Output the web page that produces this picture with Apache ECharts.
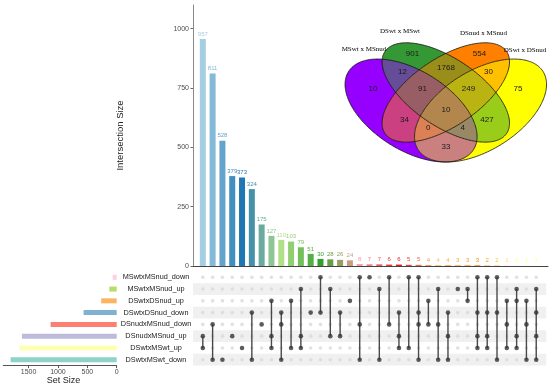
<!DOCTYPE html>
<html><head><meta charset="utf-8">
<script src="https://cdn.jsdelivr.net/npm/echarts@6/dist/echarts.min.js"></script>
<style>html,body{margin:0;padding:0;background:#fff}#c{width:550px;height:386px}</style>
</head><body><div id="c"></div>
<script>
// ---------------- DATA ----------------
const setNames = ['MSwtxMSnud_down','MSwtxMSnud_up','DSwtxDSnud_up','DSwtxDSnud_down','DSnudxMSnud_down','DSnudxMSnud_up','DSwtxMSwt_up','DSwtxMSwt_down'];
const setSizes = [68,126,264,564,1125,1613,1657,1805];
const intersectionSizes = [957,811,528,379,373,324,175,127,110,103,79,51,30,28,26,24,8,7,7,6,6,5,5,4,4,4,3,3,3,2,2,1,1,1,1];
// members of each intersection, as indices into setNames
const intersectionSets = [[5,6],[4,7],[7],[5],[6],[3,7],[4],[2,5,6],[3,4,7],[2,6],[1,5,6],[3],[0,3],[1,5],[3,5],[2],[0,4,7],[0],[1,7],[0,4],[3,5,6],[0,6],[0,3,4,7],[2,4],[1,4,7],[3,5,7],[1],[1,2],[0,3,5,6],[0,3,5,6],[0,3,7],[2,4,6],[1,2,5,6],[2,4,7],[1,3,5,7]];
const intersectionTicks = [0,250,500,750,1000];
const setSizeTicks = [0,500,1000,1500];

// Venn inset
const vennSetLabels = ['MSwt x MSnud','DSwt x MSwt','DSnud x MSnud','DSwt x DSnud'];
const vennRegionKeys = ['A','B','C','D','AB','BC','CD','ABC','BCD','ABCD','AC','BD','ACD','ABD','AD'];
const vennCounts = [10,901,554,75,12,1768,30,91,249,10,34,427,0,4,33];

// ---------------- STYLES ----------------
const FONT = '"Liberation Sans", Arial, Helvetica, sans-serif';
const setColors = ['#FCCDE5','#B3DE69','#FDB462','#80B1D3','#FB8072','#BEBADA','#FFFFB3','#8DD3C7'];
const rampAnchors = ['#A6CEE3','#1F78B4','#B2DF8A','#33A02C','#FB9A99','#E31A1C','#FDBF6F','#FF7F00','#FFFF99'];
function h2r(h){return [parseInt(h.slice(1,3),16),parseInt(h.slice(3,5),16),parseInt(h.slice(5,7),16)];}
function r2h(c){return '#'+c.map(v=>Math.round(v).toString(16).padStart(2,'0')).join('');}
function rampColor(i){
  const t=i/4; const k=Math.min(Math.floor(t),rampAnchors.length-2); const f=Math.min(t-k,1);
  const a=h2r(rampAnchors[k]), b=h2r(rampAnchors[k+1]);
  return r2h(a.map((v,j)=>v+(b[j]-v)*f));
}
const XMAX = 36.2;

// ---------------- MATRIX DATA ----------------
const greyDots=[], blackDots=[], links=[];
intersectionSets.forEach((s,i)=>{
  setNames.forEach((_,r)=>{ (s.indexOf(r)>=0?blackDots:greyDots).push([i+1,r]); });
  if(s.length>1) links.push([i+1, Math.min(...s), Math.max(...s)]);
});
const bandRows = setNames.map((_,i)=>i).filter(i=>i%2===1).map(r=>[0,r]);

// ---------------- VENN ----------------
const vennEllipses = [
  {cx:0.35,cy:0.53,a:0.35,b:0.2,phi:45},
  {cx:0.50,cy:0.43,a:0.35,b:0.17,phi:45},
  {cx:0.50,cy:0.43,a:0.35,b:0.17,phi:135},
  {cx:0.65,cy:0.53,a:0.35,b:0.2,phi:135}
];
const vennBase = ['#9600FF','#349934','#FF8000','#FFFF00'];
const V = {ox:445.8, sx:231.6, oy:14.8, sy:180.6};
const VX = x=>V.ox+(x-0.5)*V.sx, VY = y=>V.oy+y*V.sy;
const vennLabelPos = [[373,88.5],[412.5,53.3],[479.5,53.3],[518,89],[402.5,71.7],[446,67.7],[488.5,71.7],[422.5,89],[468.5,89],[446,110],[404.5,120],[487,120],[428.3,127.7],[462.7,127.7],[446,146.7]];
const vennSetLabelPos = [[364,49],[400,31.5],[483.5,33.5],[525,50]];

function ellipsePts(e,n){
  const p=[],phi=e.phi*Math.PI/180;
  for(let k=0;k<n;k++){const t=2*Math.PI*k/n;
    const x=e.cx+e.a*Math.cos(t)*Math.cos(phi)-e.b*Math.sin(t)*Math.sin(phi);
    const y=e.cy+e.a*Math.cos(t)*Math.sin(phi)+e.b*Math.sin(t)*Math.cos(phi);
    p.push([VX(x),VY(y)]);}
  return p;
}
function cross(a,b,p){return (b[0]-a[0])*(p[1]-a[1])-(b[1]-a[1])*(p[0]-a[0]);}
function clipConvex(subject,clip){
  let area=0; for(let i=0;i<clip.length;i++){const a=clip[i],b=clip[(i+1)%clip.length];area+=a[0]*b[1]-b[0]*a[1];}
  const sg=area>0?1:-1; let out=subject;
  for(let i=0;i<clip.length&&out.length;i++){
    const A=clip[i],B=clip[(i+1)%clip.length]; const inp=out; out=[];
    const ins=p=>sg*cross(A,B,p)>=0;
    for(let j=0;j<inp.length;j++){
      const cur=inp[j],prev=inp[(j+inp.length-1)%inp.length];
      const ic=ins(cur),ip=ins(prev);
      if(ic!==ip){const d1=cross(A,B,prev),d2=cross(A,B,cur),t=d1/(d1-d2);
        out.push([prev[0]+t*(cur[0]-prev[0]),prev[1]+t*(cur[1]-prev[1])]);}
      if(ic) out.push(cur);
    }
  }
  return out;
}
const ePolys = vennEllipses.map(e=>ellipsePts(e,260));
const vennGraphics=[];
const masks=[]; for(let m=1;m<16;m++) masks.push(m);
const pc=m=>[0,1,2,3].filter(i=>m&(1<<i)).length;
masks.sort((a,b)=>pc(a)-pc(b));
masks.forEach(m=>{
  const mem=[0,1,2,3].filter(i=>m&(1<<i));
  let poly=ePolys[mem[0]];
  for(let k=1;k<mem.length;k++) poly=clipConvex(poly,ePolys[mem[k]]);
  if(poly.length<3) return;
  const cols=mem.map(i=>h2r(vennBase[i]));
  const avg=[0,1,2].map(j=>cols.reduce((s,c)=>s+c[j],0)/cols.length);
  vennGraphics.push({type:'polygon',shape:{points:poly},style:{fill:r2h(avg),stroke:null,lineWidth:0},silent:true,z:10});
});
ePolys.forEach(p=>vennGraphics.push({type:'polygon',shape:{points:p},style:{fill:null,stroke:'#111',lineWidth:0.8},silent:true,z:11}));
vennCounts.forEach((c,i)=>vennGraphics.push({type:'text',x:vennLabelPos[i][0],y:vennLabelPos[i][1],z:12,silent:true,
  style:{text:String(c),fontSize:8,fontFamily:FONT,fill:'#1a1a1a',align:'center',verticalAlign:'middle',textAlign:'center',textVerticalAlign:'middle'}}));
vennSetLabels.forEach((t,i)=>vennGraphics.push({type:'text',x:vennSetLabelPos[i][0],y:vennSetLabelPos[i][1],z:12,silent:true,
  style:{text:t,fontSize:7,fontFamily:'"Liberation Serif", "Times New Roman", serif',fill:'#000',align:'center',verticalAlign:'middle',textAlign:'center',textVerticalAlign:'middle'}}));

// ---------------- CHART ----------------
const chart = echarts.init(document.getElementById('c'), null, {renderer:'canvas'});
const G = {outerBoundsMode:'none', containLabel:false, show:false};
const plain = v => String(v);
const option = {
  animation:false,
  backgroundColor:'#ffffff',
  textStyle:{fontFamily:FONT},
  grid:[
    Object.assign({left:193, top:5, width:355, height:261}, G),
    Object.assign({left:193, top:271.4, width:355, height:94.2}, G),
    Object.assign({left:3.3, top:271.4, width:113.4, height:94.2}, G)
  ],
  xAxis:[
    {gridIndex:0, type:'value', min:0, max:XMAX, axisLine:{show:true,onZero:true,lineStyle:{color:'#444',width:1}}, axisTick:{show:false}, axisLabel:{show:false}, splitLine:{show:false}},
    {gridIndex:1, type:'value', min:0, max:XMAX, show:false},
    {gridIndex:2, type:'value', min:0, max:1930, inverse:true,
      axisLine:{show:true,lineStyle:{color:'#555',width:1}},
      axisTick:{show:true,length:2.5,lineStyle:{color:'#555'},customValues:setSizeTicks},
      axisLabel:{show:true,fontSize:7,color:'#4d4d4d',margin:3,customValues:setSizeTicks,fontFamily:FONT,formatter:plain},
      splitLine:{show:false},
      name:'Set Size', nameLocation:'middle', nameGap:8, nameTextStyle:{fontSize:9,color:'#222',fontFamily:FONT,padding:[0,0,0,7]}}
  ],
  yAxis:[
    {gridIndex:0, type:'value', min:0, max:1100,
      axisLine:{show:true,lineStyle:{color:'#8a8a8a',width:1}},
      axisTick:{show:true,length:2.5,lineStyle:{color:'#666'},customValues:intersectionTicks},
      axisLabel:{show:true,fontSize:7,color:'#4d4d4d',margin:4,customValues:intersectionTicks,fontFamily:FONT,formatter:plain},
      splitLine:{show:false},
      name:'Intersection Size', nameLocation:'middle', nameGap:68, nameRotate:90, nameTextStyle:{fontSize:9.5,color:'#222',fontFamily:FONT}},
    {gridIndex:1, type:'value', min:-0.5, max:setNames.length-0.5, inverse:true, show:false},
    {gridIndex:2, type:'category', data:setNames, inverse:true, position:'right',
      axisLine:{show:false}, axisTick:{show:false},
      axisLabel:{show:true, align:'center', margin:39.3, fontSize:7.3, color:'#1a1a1a', fontFamily:FONT}}
  ],
  series:[
    {type:'bar', xAxisIndex:0, yAxisIndex:0, barWidth:6,
      data: intersectionSizes.map((v,i)=>({value:[i+1,v], itemStyle:{color:rampColor(i)}, label:{color:rampColor(i)}})),
      label:{show:true, position:'top', distance:2, fontSize:6, fontFamily:FONT, formatter:p=>p.value[1]}},
    {type:'custom', xAxisIndex:1, yAxisIndex:1, z:1, silent:true, data:bandRows, encode:{x:0,y:1},
      renderItem:(params,api)=>{const r=api.value(1);
        const p1=api.coord([0,r-0.5]), p2=api.coord([36.02,r+0.5]);
        return {type:'rect', shape:{x:p1[0],y:Math.min(p1[1],p2[1]),width:p2[0]-p1[0],height:Math.abs(p2[1]-p1[1])}, style:{fill:'#f0f0f0'}};}},
    {type:'scatter', xAxisIndex:1, yAxisIndex:1, z:2, silent:true, data:greyDots, symbolSize:3.6, itemStyle:{color:'#d9d9d9'}},
    {type:'custom', xAxisIndex:1, yAxisIndex:1, z:3, silent:true, data:links, encode:{x:0,y:[1,2]},
      renderItem:(params,api)=>{const x=api.value(0);
        const p1=api.coord([x,api.value(1)]), p2=api.coord([x,api.value(2)]);
        return {type:'line', shape:{x1:p1[0],y1:p1[1],x2:p2[0],y2:p2[1]}, style:{stroke:'#4a4a4a',lineWidth:1.4}};}},
    {type:'scatter', xAxisIndex:1, yAxisIndex:1, z:4, silent:true, data:blackDots, symbolSize:4.6, itemStyle:{color:'#333333'}},
    {type:'bar', xAxisIndex:2, yAxisIndex:2, barWidth:5,
      data: setSizes.map((v,i)=>({value:v, itemStyle:{color:setColors[i]}}))}
  ],
  graphic: vennGraphics
};
chart.setOption(option);
</script></body></html>
